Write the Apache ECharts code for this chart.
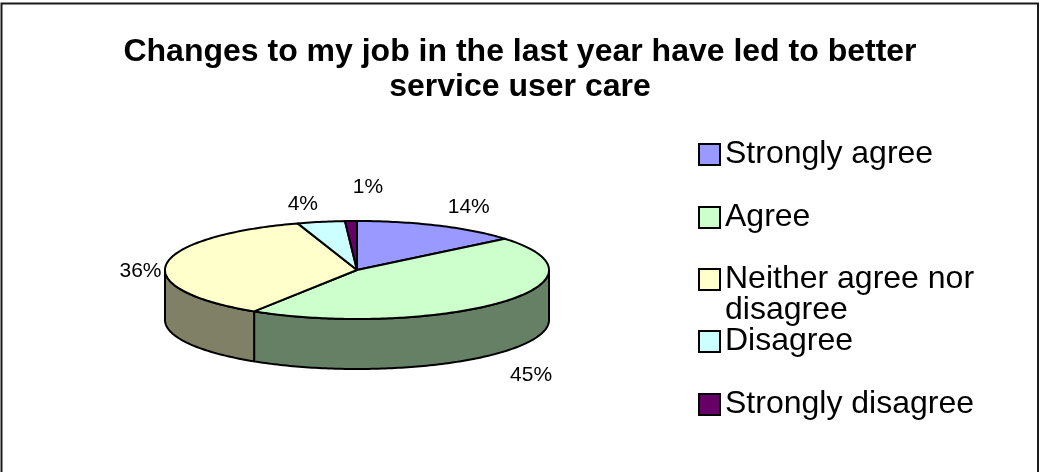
<!DOCTYPE html>
<html>
<head>
<meta charset="utf-8">
<script src="https://cdn.jsdelivr.net/npm/echarts@6/dist/echarts.min.js"></script>
<style>
  html, body { margin: 0; padding: 0; background: #ffffff; }
  #chart { width: 1040px; height: 472px; }
</style>
</head>
<body>
<div id="chart"></div>
<script>
// ---- data ----
const titleLines = ['Changes to my job in the last year have led to better', 'service user care'];
const categories = ['Strongly agree', 'Agree', 'Neither agree nor disagree', 'Disagree', 'Strongly disagree'];
const legendLines = [['Strongly agree'], ['Agree'], ['Neither agree nor', 'disagree'], ['Disagree'], ['Strongly disagree']];
const percents = [14, 45, 36, 4, 1];
const colors = ['#9999FF', '#CCFFCC', '#FFFFCC', '#CCFFFF', '#660066'];

// ---- layout ----
const FONT = 'Arial, "Liberation Sans", sans-serif';
const PIE = { cx: 357, cy: 270, rx: 192, ry: 49, depth: 50 };
const LABEL_GAP = { x: 9, y: 12 };
const LABEL_NUDGE = [[0, 4], [0, 0], [4, 7], [6, 5], [17, -11]];
const LEGEND_LEFT = 698;
const LEGEND_ROW_CENTERS = [154, 217, 279, 341, 404];
const LEGEND_LINE_H = 31;

const total = percents.reduce((a, b) => a + b, 0);
const starts = percents.map((_, i) => percents.slice(0, i).reduce((a, b) => a + b, 0));

function shade(hex, f) {
  const n = parseInt(hex.slice(1), 16);
  const r = Math.round(((n >> 16) & 255) * f);
  const g = Math.round(((n >> 8) & 255) * f);
  const b = Math.round((n & 255) * f);
  return 'rgb(' + r + ',' + g + ',' + b + ')';
}

// point on the tilted rim; angle measured clockwise from 12 o'clock
function rim(a, dy) {
  return [PIE.cx + PIE.rx * Math.sin(a), PIE.cy - PIE.ry * Math.cos(a) + dy];
}
function arc(a0, a1, dy) {
  const n = Math.max(2, Math.ceil((a1 - a0) / (Math.PI / 180)) + 1);
  const pts = [];
  for (let k = 0; k < n; k++) pts.push(rim(a0 + (a1 - a0) * k / (n - 1), dy));
  return pts;
}

function makeRenderItem(idx) {
  return function (params, api) {
    const s = api.value(0), v = api.value(1);
    const a0 = s / total * 2 * Math.PI;
    const a1 = (s + v) / total * 2 * Math.PI;
    const color = colors[idx];
    const children = [];

    // outer wall, only the part facing the viewer
    const lo = Math.max(a0, Math.PI / 2), hi = Math.min(a1, 3 * Math.PI / 2);
    if (hi > lo) {
      const pts = arc(lo, hi, 0).concat(arc(lo, hi, PIE.depth).reverse());
      children.push({
        type: 'polygon', z2: 1,
        shape: { points: pts },
        style: { fill: shade(color, 0.5), stroke: '#000', lineWidth: 2, lineJoin: 'round' }
      });
    }

    // top face
    children.push({
      type: 'polygon', z2: 10,
      shape: { points: [[PIE.cx, PIE.cy]].concat(arc(a0, a1, 0)) },
      style: { fill: color, stroke: '#000', lineWidth: 2, lineJoin: 'round' }
    });

    // percentage label outside the rim
    const mid = (a0 + a1) / 2;
    const sn = Math.sin(mid), cs = Math.cos(mid);
    const edge = rim(mid, cs < 0 ? PIE.depth : 0);
    const align = sn > 0.1 ? 'left' : (sn < -0.1 ? 'right' : 'center');
    const vAlign = cs > 0.3 ? 'bottom' : (cs < -0.3 ? 'top' : 'middle');
    const lx = edge[0] + (align === 'left' ? LABEL_GAP.x : align === 'right' ? -LABEL_GAP.x : 0) + LABEL_NUDGE[idx][0];
    const ly = edge[1] + (vAlign === 'bottom' ? -LABEL_GAP.y : vAlign === 'top' ? LABEL_GAP.y : 0) + LABEL_NUDGE[idx][1];
    children.push({
      type: 'text', z2: 20,
      style: {
        text: v + '%', x: lx, y: ly, align: align, verticalAlign: vAlign,
        fill: '#000', font: '21px ' + FONT
      }
    });

    return { type: 'group', children: children };
  };
}

const series = categories.map((name, i) => ({
  type: 'custom',
  name: name,
  coordinateSystem: 'none',
  renderItem: makeRenderItem(i),
  itemStyle: { color: colors[i] },
  data: [[starts[i], percents[i]]],
  animation: false,
  silent: true
}));

// one legend per entry so a wrapped entry keeps its swatch on the first line
// and its second line runs down towards the next entry
const legend = categories.map((name, i) => {
  const lines = legendLines[i];
  // pad with blank lines above so the first line sits level with the swatch
  const padded = new Array(lines.length - 1).fill('').concat(lines);
  const offset = padded.length * LEGEND_LINE_H / 2;
  return {
    data: [{ name: name, itemStyle: { color: colors[i], borderColor: '#000', borderWidth: 2 } }],
    orient: 'vertical',
    left: LEGEND_LEFT,
    top: LEGEND_ROW_CENTERS[i] - offset,
    padding: 0,
    itemWidth: 21,
    itemHeight: 21,
    icon: 'rect',
    selectedMode: false,
    formatter: () => padded.join('\n'),
    textStyle: { fontSize: 32, fontFamily: FONT, color: '#000', lineHeight: LEGEND_LINE_H }
  };
});

const chart = echarts.init(document.getElementById('chart'), null, { renderer: 'canvas' });
chart.setOption({
  backgroundColor: '#ffffff',
  animation: false,
  title: {
    text: titleLines.join('\n'),
    left: 'center',
    top: 35,
    padding: 0,
    textStyle: { fontSize: 32, fontWeight: 'bold', lineHeight: 35, fontFamily: FONT, color: '#000' }
  },
  legend: legend,
  graphic: [{
    type: 'rect', silent: true,
    shape: { x: 1.5, y: 3.5, width: 1036.5, height: 500 },
    style: { fill: null, stroke: '#1a1a1a', lineWidth: 2 }
  }],
  series: series
});
</script>
</body>
</html>
